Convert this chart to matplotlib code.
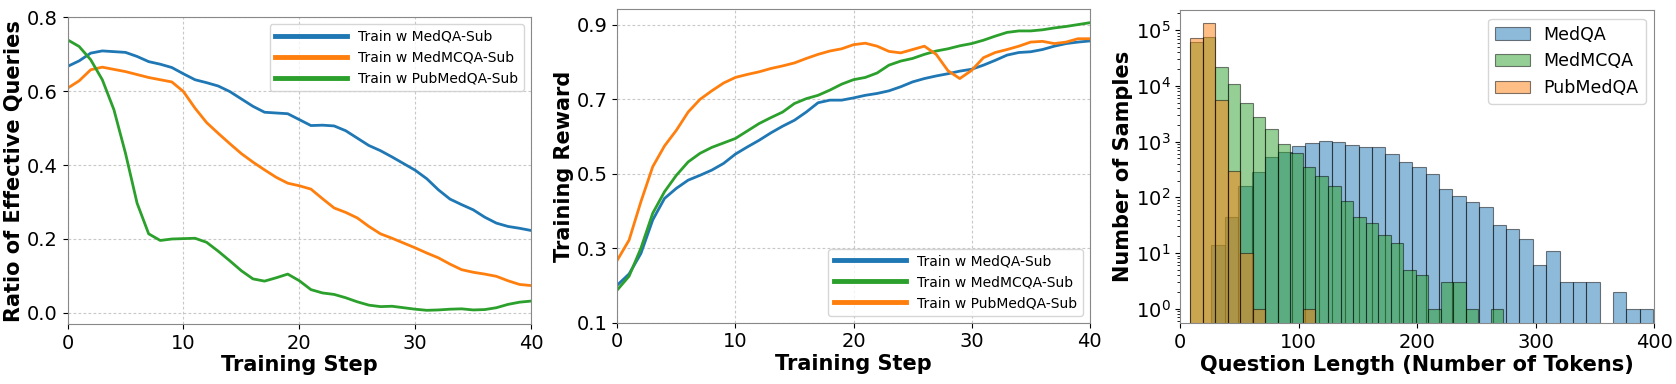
import matplotlib
matplotlib.use("Agg")
import matplotlib.pyplot as plt
import numpy as np

steps = list(range(41))

# panel 1: ratio of effective queries
ratio_medqa = [0.667, 0.682, 0.703, 0.709, 0.707, 0.705, 0.694, 0.680, 0.673, 0.664, 0.647,
               0.631, 0.623, 0.614, 0.599, 0.579, 0.559, 0.543, 0.541, 0.539, 0.523,
               0.507, 0.508, 0.506, 0.493, 0.473, 0.453, 0.439, 0.422, 0.404, 0.386,
               0.363, 0.333, 0.308, 0.293, 0.279, 0.259, 0.243, 0.234, 0.229, 0.223]
ratio_medmcqa = [0.608, 0.628, 0.658, 0.665, 0.659, 0.653, 0.645, 0.637, 0.631, 0.625, 0.599,
                 0.554, 0.515, 0.486, 0.458, 0.431, 0.408, 0.387, 0.367, 0.351, 0.344,
                 0.335, 0.309, 0.284, 0.272, 0.257, 0.234, 0.214, 0.202, 0.189, 0.176,
                 0.162, 0.149, 0.132, 0.117, 0.110, 0.105, 0.099, 0.087, 0.077, 0.074]
ratio_pubmedqa = [0.739, 0.721, 0.685, 0.631, 0.550, 0.432, 0.297, 0.214, 0.196, 0.200, 0.201,
                  0.202, 0.191, 0.167, 0.141, 0.114, 0.092, 0.086, 0.095, 0.105, 0.087,
                  0.063, 0.054, 0.050, 0.041, 0.030, 0.021, 0.017, 0.018, 0.014, 0.010,
                  0.007, 0.008, 0.010, 0.011, 0.008, 0.009, 0.014, 0.023, 0.029, 0.032]

# panel 2: training reward
reward_medqa = [0.201, 0.231, 0.286, 0.376, 0.434, 0.461, 0.483, 0.496, 0.510, 0.528, 0.553,
                0.572, 0.590, 0.610, 0.628, 0.644, 0.666, 0.691, 0.698, 0.698, 0.704,
                0.711, 0.716, 0.723, 0.734, 0.747, 0.756, 0.763, 0.769, 0.776, 0.781,
                0.792, 0.805, 0.819, 0.826, 0.828, 0.834, 0.843, 0.850, 0.854, 0.857]
reward_medmcqa = [0.188, 0.225, 0.300, 0.394, 0.452, 0.496, 0.532, 0.555, 0.571, 0.583, 0.595,
                  0.615, 0.635, 0.651, 0.666, 0.689, 0.702, 0.711, 0.725, 0.741, 0.753,
                  0.759, 0.771, 0.792, 0.803, 0.810, 0.821, 0.830, 0.836, 0.844, 0.850,
                  0.859, 0.870, 0.880, 0.884, 0.884, 0.887, 0.892, 0.896, 0.901, 0.906]
reward_pubmedqa = [0.268, 0.322, 0.425, 0.519, 0.575, 0.617, 0.666, 0.700, 0.723, 0.744, 0.759,
                   0.767, 0.774, 0.783, 0.790, 0.798, 0.810, 0.821, 0.830, 0.836, 0.847,
                   0.851, 0.843, 0.829, 0.825, 0.834, 0.843, 0.821, 0.777, 0.756, 0.778,
                   0.812, 0.826, 0.834, 0.843, 0.854, 0.856, 0.850, 0.854, 0.863, 0.863]

# panel 3: question length histograms (bin edges + counts per bin)
medqa_edges = np.linspace(26.5, 399, 34)
medqa_counts = [14, 45, 160, 290, 520, 640, 850, 930, 1040, 970, 870, 800, 800, 590, 435,
                355, 260, 140, 106, 84, 66, 32, 27, 18, 6, 11, 3, 3, 3, 0, 2, 1, 1]
medmcqa_edges = np.linspace(8.7, 272.45, 26)
medmcqa_counts = [62000, 76000, 22000, 10700, 4900, 2800, 1700, 910, 630, 345, 240, 160, 86,
                  45, 34, 21, 15, 5, 4, 1, 3, 3, 1, 0, 1]
pubmedqa_edges = np.linspace(8.7, 114.2, 11)
pubmedqa_counts = [71000, 132000, 5600, 300, 10, 1, 0, 0, 0, 1]

blue = '#1f77b4'
orange = '#ff7f0e'
green = '#2ca02c'

fig = plt.figure(figsize=(16.76, 3.84), dpi=100)
ax1 = fig.add_axes([0.0403, 0.1563, 0.2766, 0.7987])
ax2 = fig.add_axes([0.3683, 0.1596, 0.2819, 0.8161])
ax3 = fig.add_axes([0.7041, 0.1581, 0.2830, 0.8159])

lw = 2.0
grid_kw = dict(linestyle=(0, (2.5, 2)), color='#c8c8c8', lw=0.8)

# ---- panel 1
ax1.plot(steps, ratio_medqa, color=blue, lw=lw, label='Train w MedQA-Sub')
ax1.plot(steps, ratio_medmcqa, color=orange, lw=lw, label='Train w MedMCQA-Sub')
ax1.plot(steps, ratio_pubmedqa, color=green, lw=lw, label='Train w PubMedQA-Sub')
ax1.set_xlim(0, 40)
ax1.set_ylim(-0.03, 0.8)
ax1.set_yticks([0.0, 0.2, 0.4, 0.6, 0.8])
ax1.set_xticks([0, 10, 20, 30, 40])
ax1.grid(True, **grid_kw)
ax1.set_xlabel('Training Step', fontsize=15, fontweight='bold', labelpad=2)
ax1.set_ylabel('Ratio of Effective Queries', fontsize=15, fontweight='bold', labelpad=2)
leg1 = ax1.legend(loc='upper right', fontsize=10, handlelength=5.2)
for l in leg1.get_lines():
    l.set_linewidth(3.5)

# ---- panel 2
ax2.plot(steps, reward_medqa, color=blue, lw=lw, label='Train w MedQA-Sub')
ax2.plot(steps, reward_medmcqa, color=green, lw=lw, label='Train w MedMCQA-Sub')
ax2.plot(steps, reward_pubmedqa, color=orange, lw=lw, label='Train w PubMedQA-Sub')
ax2.set_xlim(0, 40)
ax2.set_ylim(0.1, 0.942)
ax2.set_yticks([0.1, 0.3, 0.5, 0.7, 0.9])
ax2.set_xticks([0, 10, 20, 30, 40])
ax2.grid(True, **grid_kw)
ax2.set_xlabel('Training Step', fontsize=15, fontweight='bold', labelpad=2)
ax2.set_ylabel('Training Reward', fontsize=15, fontweight='bold', labelpad=2)
leg2 = ax2.legend(loc='lower right', fontsize=10, handlelength=5.2)
for l in leg2.get_lines():
    l.set_linewidth(3.5)

# ---- panel 3
ax3.hist(medqa_edges[:-1], bins=medqa_edges, weights=medqa_counts, color=blue,
         alpha=0.5, edgecolor='black', lw=0.8, label='MedQA')
ax3.hist(medmcqa_edges[:-1], bins=medmcqa_edges, weights=medmcqa_counts, color=green,
         alpha=0.5, edgecolor='black', lw=0.8, label='MedMCQA')
ax3.hist(pubmedqa_edges[:-1], bins=pubmedqa_edges, weights=pubmedqa_counts, color=orange,
         alpha=0.5, edgecolor='black', lw=0.8, label='PubMedQA')
ax3.set_yscale('log')
ax3.set_xlim(0, 400)
ax3.set_ylim(0.55, 2.3e5)
ax3.set_xticks([0, 100, 200, 300, 400])
ax3.set_xlabel('Question Length (Number of Tokens)', fontsize=15, fontweight='bold', labelpad=2)
ax3.set_ylabel('Number of Samples', fontsize=15, fontweight='bold', labelpad=2)
ax3.legend(loc='upper right', fontsize=12.5)

for ax in (ax1, ax2, ax3):
    ax.tick_params(labelsize=14)
    for s in ax.spines.values():
        s.set_color('#888888')

fig.savefig('out.png', dpi=100)
